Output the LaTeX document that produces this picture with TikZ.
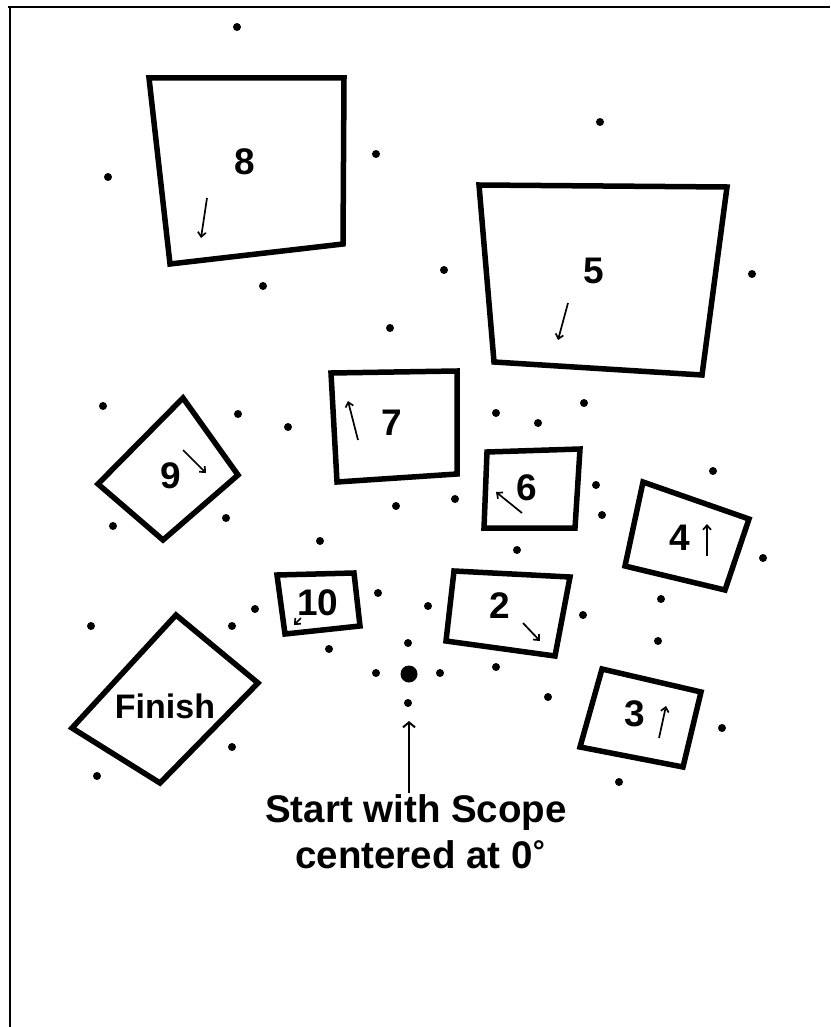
\documentclass[tikz,border=0pt]{standalone}
\usepackage{fontspec}
\setmainfont{Liberation Sans}
\usetikzlibrary{arrows.meta}
\tikzset{
  boxline/.style={line width=5.5pt, line join=miter},
  framel/.style={line width=2pt},
  dot/.style={fill=black},
  tinyarrow/.style={line width=1.7pt, -{Straight Barb[length=4.5pt,width=8pt,line width=1.7pt]}},
  numlab/.style={inner sep=0pt, font=\fontsize{37}{40}\selectfont\bfseries},
  finlab/.style={inner sep=0pt, font=\fontsize{34}{38}\selectfont\bfseries},
  startlab/.style={inner sep=0pt, anchor=base, font=\fontsize{38.5}{46}\selectfont\bfseries},
}
\begin{document}
\begin{tikzpicture}[x=1pt,y=-1pt]
\useasboundingbox (0,0) rectangle (830,1027);
% frame
\draw[framel] (8,7) -- (830,7);
\draw[framel] (10,7) -- (10,1027);
% boxes
\draw[boxline] (149,78) -- (344,78) -- (343,244) -- (170,264) -- cycle;
\draw[boxline] (479,185) -- (727,187) -- (702,375) -- (494,362) -- cycle;
\draw[boxline] (183,398) -- (238,475) -- (163,540) -- (98,484) -- cycle;
\draw[boxline] (331,373) -- (457,371) -- (457,474) -- (337,482) -- cycle;
\draw[boxline] (487,452) -- (580,449) -- (575,528) -- (484,528) -- cycle;
\draw[boxline] (643,482) -- (749,519) -- (725,590) -- (625,566) -- cycle;
\draw[boxline] (454,571) -- (570,577) -- (555,656) -- (446,641) -- cycle;
\draw[boxline] (602,669) -- (701,692) -- (683,767) -- (580,747) -- cycle;
\draw[boxline] (277,575) -- (354,573) -- (360,626) -- (285,634) -- cycle;
\draw[boxline] (176,615) -- (258,683) -- (160,783) -- (72,728) -- cycle;
% labels
\node[numlab] (n8) at (245,162) {8};
\node[numlab] (n5) at (594,271) {5};
\node[numlab] (n9) at (171,476) {9};
\node[numlab] (n7) at (392,423) {7};
\node[numlab] (n6) at (527,488) {6};
\node[numlab] (n4) at (680,538) {4};
\node[numlab] (n2) at (500,606) {2};
\node[numlab] (n3) at (635,714) {3};
\node[numlab] (n10) at (318,603) {10};
\node[finlab] (fin) at (165,706) {Finish};
% small direction arrows
\coordinate (a8s) at (207,198); \coordinate (a8e) at (201,238);
\coordinate (a5s) at (568,303); \coordinate (a5e) at (558,340);
\coordinate (a9s) at (183,450); \coordinate (a9e) at (206,473);
\coordinate (a7s) at (358,440); \coordinate (a7e) at (348,401);
\coordinate (a6s) at (522,513); \coordinate (a6e) at (496,492);
\coordinate (a4s) at (707,556); \coordinate (a4e) at (707,524);
\coordinate (a2s) at (523,623); \coordinate (a2e) at (540,641);
\coordinate (a3s) at (659,738); \coordinate (a3e) at (666,706);
\coordinate (a10s) at (301,618); \coordinate (a10e) at (294,625);
\foreach \n in {8,5,9,7,6,4,2,3,10} \draw[tinyarrow] (a\n s) -- (a\n e);
% dots
\foreach \p in {(237,27),(600,122),(108,177),(376,154),(444,270),(263,286),(752,274),(390,328),
  (103,406),(238,414),(288,427),(496,413),(538,423),(584,403),(713,471),(596,485),(602,515),
  (455,499),(396,506),(113,526),(226,518),(320,541),(517,550),(763,558),(661,599),(255,609),
  (232,626),(91,626),(378,593),(428,606),(583,615),(658,641),(329,649),(496,667),(548,697),
  (408,643),(376,673),(440,673),(408,703),(722,728),(232,747),(97,776),(619,782)}
  \fill[dot] \p circle (4pt);
\fill[dot] (409,674) coordinate (origin) circle (8.5pt);
% start label
\node[startlab] (start1) at (416,822) {Start with Scope};
\node[startlab] (start2) at (420,868) {centered at 0\raisebox{7pt}{\fontsize{30}{30}\selectfont°}};
\coordinate (tip) at (409,721);
\draw[line width=2pt, -{Straight Barb[length=5pt,width=12pt,line width=2pt]}] (409,793) -- (tip);
\end{tikzpicture}
\end{document}
